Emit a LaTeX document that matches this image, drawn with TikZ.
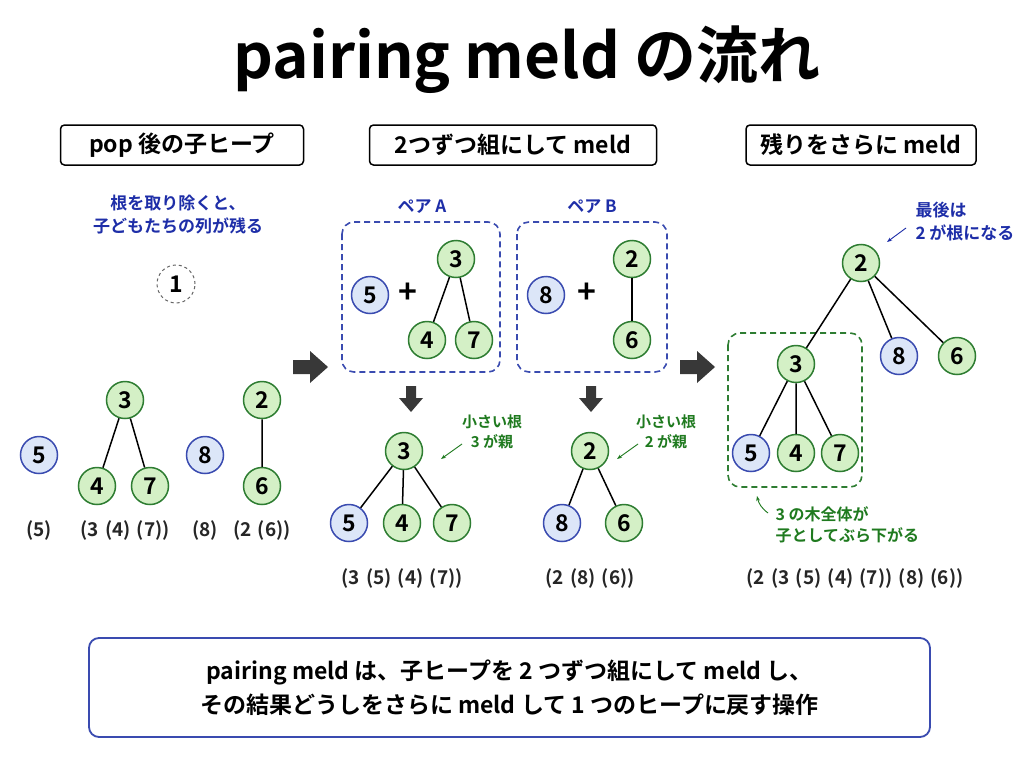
\documentclass[tikz,border=0pt]{standalone}
\usepackage{fontspec}
\setmainfont{Noto Sans CJK JP}[BoldFont={* Bold}]
\usetikzlibrary{arrows.meta}
\definecolor{gfill}{HTML}{D4F0C6}\definecolor{gline}{HTML}{2E7D32}
\definecolor{bfill}{HTML}{DCE6F8}\definecolor{bline}{HTML}{3A4BB0}
\definecolor{ttxt}{HTML}{1E2EA8}\definecolor{gtxt}{HTML}{1F7A1F}
\begin{document}
\begin{tikzpicture}[x=1pt,y=-1pt,font=\bfseries,
 gn/.style={circle,draw=gline,fill=gfill,line width=1.5pt,minimum size=37pt,inner sep=0pt,font=\bfseries\fontsize{23}{23}\selectfont},
 bn/.style={gn,draw=bline,fill=bfill},
 edge/.style={line width=1.5pt},
 hdr/.style={draw,line width=1.5pt,rounded corners=4pt,minimum height=40pt,font=\bfseries\fontsize{23}{23}\selectfont},
 sexp/.style={font=\bfseries\fontsize{19}{19}\selectfont,text=black!85},
 bnote/.style={text=ttxt,align=center,font=\bfseries\fontsize{17}{23}\selectfont},
 gnote/.style={text=gtxt,align=center,font=\bfseries\fontsize{16}{21}\selectfont},
 dsh/.style={dash pattern=on 6pt off 4pt,line width=1.6pt,rounded corners=12pt},
 arrfill/.style={fill=black!78}]
\useasboundingbox (0,0) rectangle (1024,768);
\fill[white] (0,0) rectangle (1024,768);
\node[font=\bfseries\fontsize{62}{62}\selectfont] (title) at (527,60) {pairing meld の流れ};
\node[hdr,minimum width=243pt] (h1) at (182,145) {pop 後の子ヒープ};
\node[hdr,minimum width=287pt] (h2) at (513,145) {2つずつ組にして meld};
\node[hdr,minimum width=230pt] (h3) at (861,145) {残りをさらに meld};
% left
\node[bnote] (n1) at (178,215) {根を取り除くと、\\子どもたちの列が残る};
\node[circle,draw=black!60,dashed,line width=1pt,minimum size=38pt,inner sep=0pt,font=\bfseries\fontsize{23}{23}\selectfont] (r1) at (176,284) {1};
\node[bn] (a5) at (39,455) {5};
\node[gn] (a3) at (125,400) {3};
\node[gn] (a4) at (97,486) {4};
\node[gn] (a7) at (150,486) {7};
\node[bn] (a8) at (205,455) {8};
\node[gn] (a2) at (262,400) {2};
\node[gn] (a6) at (262,486) {6};
\draw[edge] (a3)--(a4) (a3)--(a7) (a2)--(a6);
\node[sexp] (s1) at (39,530) {(5)};
\node[sexp] (s2) at (125,530) {(3\,\,(4)\,\,(7))};
\node[sexp] (s3) at (205,530) {(8)};
\node[sexp] (s4) at (262,530) {(2\,\,(6))};
\fill[arrfill] (293,360)--(310,360)--(310,351)--(328,367)--(310,383)--(310,374)--(293,374)--cycle;
\fill[arrfill] (680,360)--(697,360)--(697,351)--(715,367)--(697,383)--(697,374)--(680,374)--cycle;
% pair A
\draw[bline,dsh] (342,222) rectangle (500,372);
\node[bnote] (pa) at (422,207) {ペア A};
\node[bn] (p5) at (370,295) {5};
\node[font=\bfseries\fontsize{32}{32}\selectfont] (pl1) at (408,293) {+};
\node[gn] (p3) at (456,259) {3};
\node[gn] (p4) at (427,340) {4};
\node[gn] (p7) at (474,340) {7};
\draw[edge] (p3)--(p4) (p3)--(p7);
% pair B
\draw[bline,dsh] (517,222) rectangle (667,372);
\node[bnote] (pb) at (592,207) {ペア B};
\node[bn] (q8) at (546,295) {8};
\node[font=\bfseries\fontsize{32}{32}\selectfont] (pl2) at (587,293) {+};
\node[gn] (q2) at (632,259) {2};
\node[gn] (q6) at (632,340) {6};
\draw[edge] (q2)--(q6);
\fill[arrfill] (406,386)--(416,386)--(416,398)--(423,398)--(411,412)--(399,398)--(406,398)--cycle;
\fill[arrfill] (586,386)--(596,386)--(596,398)--(603,398)--(591,412)--(579,398)--(586,398)--cycle;
% result A
\node[gn] (ra3) at (404,451) {3};
\node[bn] (ra5) at (349,523) {5};
\node[gn] (ra4) at (402,523) {4};
\node[gn] (ra7) at (452,523) {7};
\draw[edge] (ra3)--(ra5) (ra3)--(ra4) (ra3)--(ra7);
\node[sexp] (s5) at (402,578) {(3\,\,(5)\,\,(4)\,\,(7))};
\node[gnote,font=\bfseries\fontsize{15}{20}\selectfont] (na) at (492,432) {小さい根\\3 が親};
\coordinate (na1) at (462,444); \coordinate (na2) at (441,459);
\draw[gtxt,-{Stealth[length=5pt]},line width=0.9pt] (na1)--(na2);
% result B
\node[gn] (rb2) at (590,451) {2};
\node[bn] (rb8) at (562,523) {8};
\node[gn] (rb6) at (624,523) {6};
\draw[edge] (rb2)--(rb8) (rb2)--(rb6);
\node[sexp] (s6) at (590,578) {(2\,\,(8)\,\,(6))};
\node[gnote,font=\bfseries\fontsize{15}{20}\selectfont] (nb) at (666,432) {小さい根\\2 が親};
\coordinate (nb1) at (638,444); \coordinate (nb2) at (617,459);
\draw[gtxt,-{Stealth[length=5pt]},line width=0.9pt] (nb1)--(nb2);
% right
\draw[gline,dsh] (728,333) rectangle (862,487);
\node[gn] (c2) at (861,263) {2};
\node[gn] (c3) at (796,364) {3};
\node[bn] (c8) at (899,356) {8};
\node[gn] (c6) at (957,356) {6};
\node[bn] (c5) at (751,453) {5};
\node[gn] (c4) at (796,453) {4};
\node[gn] (c7) at (840,453) {7};
\draw[edge] (c2)--(c3) (c2)--(c8) (c2)--(c6) (c3)--(c5) (c3)--(c4) (c3)--(c7);
\node[bnote,align=left,anchor=west] (nc) at (912,222) {最後は\\2 が根になる};
\coordinate (nc1) at (906,228); \coordinate (nc2) at (887,242);
\draw[ttxt,-{Stealth[length=5pt]},line width=0.9pt] (nc1)--(nc2);
\node[gnote,align=left,anchor=west] (nd) at (772,525) {3 の木全体が\\子としてぶら下がる};
\coordinate (nd1) at (768,513); \coordinate (nd2) at (757,496);
\draw[gtxt,-{Stealth[length=5pt]},line width=0.9pt] (nd1) to[bend left=20] (nd2);
\node[sexp] (s7) at (855,578) {(2\,\,(3\,\,(5)\,\,(4)\,\,(7))\,\,(8)\,\,(6))};
% bottom
\node[draw=bline,line width=1.8pt,rounded corners=10pt,minimum width=841pt,minimum height=99pt,align=center,font=\bfseries\fontsize{23}{34}\selectfont] (sum) at (509.5,687.5) {pairing meld は、子ヒープを 2 つずつ組にして meld し、\\その結果どうしをさらに meld して 1 つのヒープに戻す操作};
\end{tikzpicture}
\end{document}
